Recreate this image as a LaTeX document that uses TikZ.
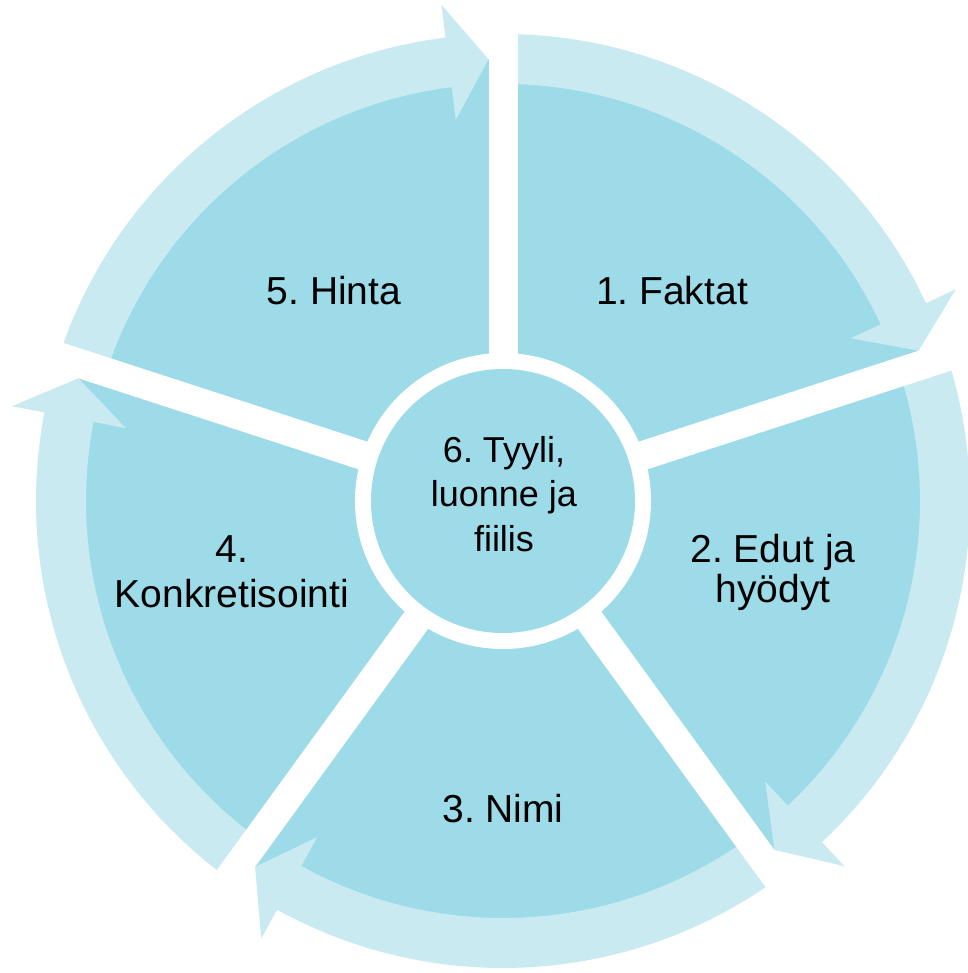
\documentclass[tikz,border=0pt]{standalone}
\usepackage{fontspec}
\setmainfont{Liberation Sans}
\frenchspacing
\definecolor{segc}{HTML}{9DDBE8}
\definecolor{ringc}{HTML}{CAEAF1}
\begin{document}
\begin{tikzpicture}[x=1pt,y=1pt,
  lbl/.style={font=\fontsize{39}{45}\selectfont, text=black, anchor=base, inner sep=0pt},
  clbl/.style={font=\fontsize{36}{44}\selectfont, text=black, anchor=base, inner sep=0pt}]
\useasboundingbox (-503,-472) rectangle (464,501);
% segments
\fill[segc] (0,0) circle[radius=442pt];
% circular arrows
\foreach \s in {90,18,-54,-126,-198}{
  \pgfmathsetmacro\aEnd{\s-72}
  \pgfmathsetmacro\aBack{\aEnd+7.07}
  \pgfmathsetmacro\aBody{\aBack-0.6}
  \pgfmathsetmacro\aTip{\aEnd+1.88}
  \fill[ringc] (\s:417pt) arc[start angle=\s, end angle=\aBody, radius=417pt]
     -- (\aBody:467pt) arc[start angle=\aBody, end angle=\s, radius=467pt] -- cycle;
  \fill[ringc] (\aBack:384pt) -- (\aTip:442pt) -- (\aBack:500pt) -- cycle;
}
% white gaps
\foreach \g in {90,18,-54,-126,162}{
  \draw[white, line width=29pt] (0,0) -- (\g:530pt);
}
% centre circle
\fill[white] (0,0) circle[radius=148pt];
\fill[segc] (0,0) circle[radius=132pt];
% labels
\node[lbl] (t1) at (169,196) {1. Faktat};
\node[lbl] (t5) at (-169,196) {5. Hinta};
\node[lbl] (t2a) at (270,-62) {2. Edut ja};
\node[lbl] (t2b) at (270,-102) {hyödyt};
\node[lbl] (t4a) at (-271,-62) {4.};
\node[lbl] (t4b) at (-271,-107) {Konkretisointi};
\node[lbl] (t3) at (0,-321) {3. Nimi};
\node[clbl] (t6a) at (1,38) {6. Tyyli,};
\node[clbl] (t6b) at (1,-6) {luonne ja};
\node[clbl] (t6c) at (1,-51) {fiilis};
\end{tikzpicture}
\end{document}
